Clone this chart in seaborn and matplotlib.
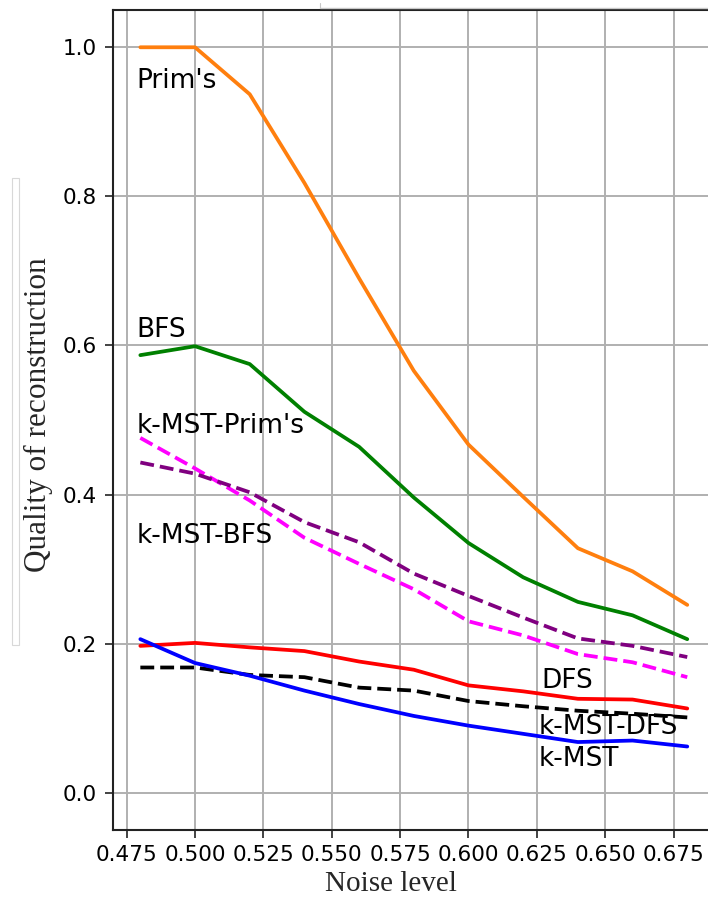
import numpy as np
import pandas as pd
import matplotlib
matplotlib.use("Agg")
import matplotlib.pyplot as plt
import seaborn as sns
from matplotlib.patches import Rectangle
from matplotlib.lines import Line2D

noise = [0.48, 0.50, 0.52, 0.54, 0.56, 0.58, 0.60, 0.62, 0.64, 0.66, 0.68]
prims = [1.000, 1.000, 0.937, 0.818, 0.690, 0.566, 0.467, 0.397, 0.328, 0.297, 0.252]
bfs = [0.587, 0.599, 0.575, 0.511, 0.464, 0.396, 0.335, 0.289, 0.256, 0.238, 0.206]
kmst_prims = [0.476, 0.435, 0.392, 0.342, 0.307, 0.273, 0.230, 0.211, 0.186, 0.175, 0.155]
kmst_bfs = [0.443, 0.428, 0.403, 0.363, 0.336, 0.294, 0.264, 0.235, 0.207, 0.197, 0.182]
dfs = [0.197, 0.201, 0.195, 0.190, 0.176, 0.165, 0.144, 0.136, 0.126, 0.125, 0.113]
kmst_dfs = [0.168, 0.168, 0.158, 0.155, 0.141, 0.137, 0.123, 0.116, 0.110, 0.106, 0.101]
kmst = [0.206, 0.174, 0.157, 0.137, 0.119, 0.103, 0.090, 0.079, 0.068, 0.070, 0.062]

series_names = ["Prim's", "BFS", "k-MST-Prim's", "k-MST-BFS", "DFS", "k-MST-DFS", "k-MST"]
series_values = [prims, bfs, kmst_prims, kmst_bfs, dfs, kmst_dfs, kmst]
colors = ["#ff7f0e", "green", "magenta", "purple", "red", "black", "blue"]
styles = ["-", "-", "--", "--", "-", "--", "-"]

label_pos = {
    "Prim's": (0.4785, 0.945),
    "BFS": (0.4785, 0.612),
    "k-MST-Prim's": (0.4785, 0.482),
    "k-MST-BFS": (0.4785, 0.3346),
    "DFS": (0.6268, 0.1405),
    "k-MST-DFS": (0.6258, 0.0788),
    "k-MST": (0.6258, 0.0353),
}

sns.set_style("whitegrid")
plt.rcParams["font.family"] = ["DejaVu Sans"]

fig = plt.figure(figsize=(7.08, 9.01), dpi=100)
ax = fig.add_axes([113 / 708, 1 - 830 / 901, (714.6 - 113) / 708, (830 - 10) / 901])

for name, vals, c, ls in zip(series_names, series_values, colors, styles):
    df = pd.DataFrame({"x": noise, "y": vals})
    sns.lineplot(data=df, x="x", y="y", ax=ax, color=c, linestyle=ls, linewidth=2.7)

for name, (tx, ty) in label_pos.items():
    ax.text(tx, ty, name, fontsize=19, color="black")

ax.set_xlim(0.47, 0.69)
ax.set_ylim(-0.05, 1.05)
ax.set_xticks([0.475, 0.500, 0.525, 0.550, 0.575, 0.600, 0.625, 0.650, 0.675])
ax.set_yticks([0.0, 0.2, 0.4, 0.6, 0.8, 1.0])
ax.set_xticklabels(["%.3f" % v for v in ax.get_xticks()])
ax.set_yticklabels(["%.1f" % v for v in ax.get_yticks()])

ax.grid(True, color="#b0b0b0", linewidth=1.4)
for s in ax.spines.values():
    s.set_color("#222222")
    s.set_linewidth(1.5)
ax.tick_params(axis="both", which="major", length=5.5, width=1.2, color="#222222",
               labelsize=15.5, pad=5, labelcolor="black", direction="out",
               bottom=True, left=True)
ax.tick_params(axis="y", pad=6)

ax.set_xlabel("Noise level", fontsize=21, family=["Liberation Serif"])
ax.set_ylabel("Quality of reconstruction", fontsize=22.5, family=["Liberation Serif"])
ax.xaxis.set_label_coords((391 - 113) / 601.6, -0.050)
ax.yaxis.set_label_coords((53 - 113) / 601.6, (830 - 415) / 820)

fig.patches.append(Rectangle((12 / 708, 1 - 645 / 901), 7 / 708, (645 - 178) / 901,
                             transform=fig.transFigure, fill=False,
                             edgecolor="#d8d8d8", linewidth=0.8))
fig.lines.append(Line2D([320 / 708, 1.0], [1 - 8 / 901, 1 - 8 / 901],
                        transform=fig.transFigure, color="#c8c8c8", linewidth=1.0))
fig.lines.append(Line2D([320 / 708, 320 / 708], [1 - 3 / 901, 1 - 8 / 901],
                        transform=fig.transFigure, color="#c8c8c8", linewidth=0.8))

fig.savefig("out.png", dpi=100, facecolor="white")
